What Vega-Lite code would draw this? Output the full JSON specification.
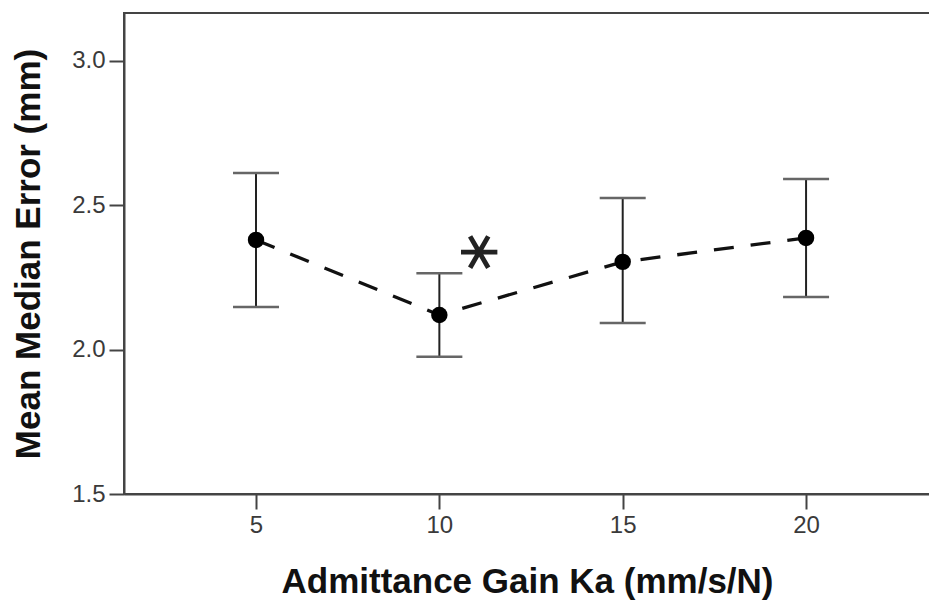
{
  "$schema": "https://vega.github.io/schema/vega-lite/v6.json",
  "width": 806,
  "height": 481,
  "autosize": {"type": "none"},
  "padding": {"left": 124, "top": 13, "right": 0, "bottom": 110},
  "background": "white",
  "config": {
    "view": {"stroke": "#444", "strokeWidth": 2},
    "font": "Liberation Sans",
    "axis": {
      "domainColor": "#444",
      "domainWidth": 2,
      "tickColor": "#444",
      "tickWidth": 2,
      "tickSize": 15,
      "labelFont": "Liberation Sans",
      "labelFontSize": 24,
      "labelColor": "#3a3a3a",
      "titleFont": "Liberation Sans",
      "titleFontSize": 35,
      "titleFontWeight": "bold",
      "titleColor": "#111",
      "grid": false
    }
  },
  "data": {
    "values": [
      {"ka": 5, "mean": 2.38, "lo": 2.148, "hi": 2.612},
      {"ka": 10, "mean": 2.12, "lo": 1.975, "hi": 2.265},
      {"ka": 15, "mean": 2.304, "lo": 2.092, "hi": 2.525},
      {"ka": 20, "mean": 2.387, "lo": 2.182, "hi": 2.591}
    ]
  },
  "encoding": {
    "x": {
      "field": "ka",
      "type": "quantitative",
      "scale": {"domain": [1.4, 23.38], "nice": false, "zero": false},
      "axis": {"values": [5, 10, 15, 20], "title": "Admittance Gain Ka (mm/s/N)", "labelPadding": 4, "titlePadding": 27}
    }
  },
  "layer": [
    {
      "mark": {"type": "rule", "color": "#222", "strokeWidth": 2},
      "encoding": {
        "y": {
          "field": "lo",
          "type": "quantitative",
          "scale": {"domain": [1.5, 3.166], "nice": false, "zero": false},
          "axis": {"values": [1.5, 2.0, 2.5, 3.0], "format": ".1f", "title": "Mean Median Error (mm)", "labelPadding": 4, "titlePadding": 25}
        },
        "y2": {"field": "hi"}
      }
    },
    {
      "mark": {"type": "tick", "orient": "horizontal", "color": "#666", "size": 46, "thickness": 2.5, "opacity": 1},
      "encoding": {"y": {"field": "hi", "type": "quantitative"}}
    },
    {
      "mark": {"type": "tick", "orient": "horizontal", "color": "#666", "size": 46, "thickness": 2.5, "opacity": 1},
      "encoding": {"y": {"field": "lo", "type": "quantitative"}}
    },
    {
      "mark": {"type": "line", "color": "#111", "strokeWidth": 3.3, "strokeDash": [20, 17]},
      "encoding": {"y": {"field": "mean", "type": "quantitative"}}
    },
    {
      "mark": {"type": "point", "filled": true, "color": "#000", "size": 270, "opacity": 1},
      "encoding": {"y": {"field": "mean", "type": "quantitative"}}
    },
    {
      "data": {"values": [{"ka": 11.05, "y": 2.338, "label": "∗"}]},
      "mark": {"type": "text", "fontSize": 58, "font": "DejaVu Sans", "color": "#222", "baseline": "middle", "align": "center", "angle": 90},
      "encoding": {"y": {"field": "y", "type": "quantitative"}, "text": {"field": "label"}}
    }
  ]
}
